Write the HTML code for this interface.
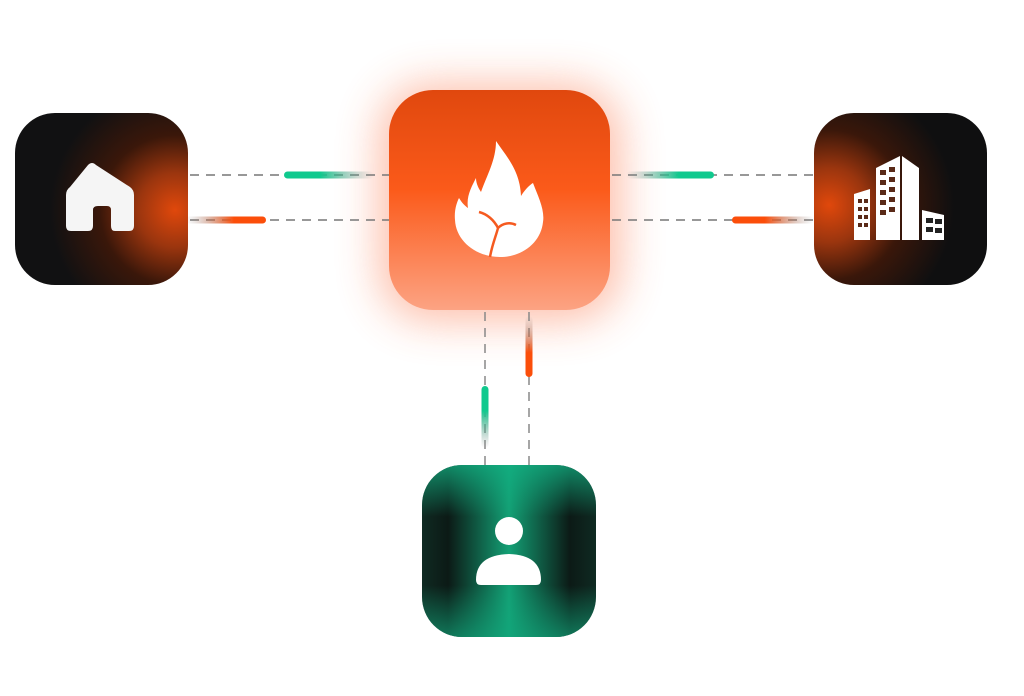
<!DOCTYPE html>
<html><head><meta charset="utf-8"><style>
html,body{margin:0;padding:0;background:#fff;width:1024px;height:696px;overflow:hidden}
</style></head><body>
<svg width="1024" height="696" viewBox="0 0 1024 696" xmlns="http://www.w3.org/2000/svg">
<defs>
 <filter id="glow" x="-50%" y="-50%" width="200%" height="200%"><feGaussianBlur stdDeviation="22"/></filter>
 <linearGradient id="cg" x1="0" y1="0" x2="0" y2="1">
  <stop offset="0" stop-color="#e0480e"/><stop offset="0.45" stop-color="#fb5a1a"/><stop offset="1" stop-color="#fca383"/>
 </linearGradient>
 <radialGradient id="lg" gradientUnits="userSpaceOnUse" cx="175" cy="210" r="125">
  <stop offset="0" stop-color="#e0480c"/><stop offset="0.3" stop-color="#9a350e"/><stop offset="0.6" stop-color="#3a170a"/><stop offset="1" stop-color="#111112"/>
 </radialGradient>
 <radialGradient id="rg" gradientUnits="userSpaceOnUse" cx="829" cy="205" r="125">
  <stop offset="0" stop-color="#e0480c"/><stop offset="0.3" stop-color="#9a350e"/><stop offset="0.6" stop-color="#3a170a"/><stop offset="1" stop-color="#0f0f10"/>
 </radialGradient>
 <linearGradient id="bh" x1="0" x2="1">
  <stop offset="0" stop-color="#0f2a22"/><stop offset="0.15" stop-color="#0c1a16"/><stop offset="0.5" stop-color="#13a075"/><stop offset="0.85" stop-color="#0c1a16"/><stop offset="1" stop-color="#0f2a22"/>
 </linearGradient>
 <linearGradient id="bv" x1="0" y1="0" x2="0" y2="1">
  <stop offset="0" stop-color="#12b082" stop-opacity="0.75"/><stop offset="0.3" stop-color="#12b082" stop-opacity="0"/><stop offset="0.7" stop-color="#12b082" stop-opacity="0"/><stop offset="1" stop-color="#12a87c" stop-opacity="0.65"/>
 </linearGradient>
 <clipPath id="cl"><rect x="15" y="113" width="173" height="172" rx="40"/></clipPath>
 <clipPath id="cr"><rect x="814" y="113" width="173" height="172" rx="40"/></clipPath>
 <clipPath id="cb"><rect x="422" y="465" width="174" height="172" rx="40"/></clipPath>
 <linearGradient id="gR" x1="0" x2="1"><stop offset="0" stop-color="#10c98e"/><stop offset="0.4" stop-color="#10c98e"/><stop offset="1" stop-color="#888" stop-opacity="0"/></linearGradient>
 <linearGradient id="gL" x1="1" x2="0"><stop offset="0" stop-color="#10c98e"/><stop offset="0.4" stop-color="#10c98e"/><stop offset="1" stop-color="#888" stop-opacity="0"/></linearGradient>
 <linearGradient id="oL" x1="1" x2="0"><stop offset="0" stop-color="#fb4e0a"/><stop offset="0.4" stop-color="#fb4e0a"/><stop offset="1" stop-color="#888" stop-opacity="0"/></linearGradient>
 <linearGradient id="oR" x1="0" x2="1"><stop offset="0" stop-color="#fb4e0a"/><stop offset="0.4" stop-color="#fb4e0a"/><stop offset="1" stop-color="#888" stop-opacity="0"/></linearGradient>
 <linearGradient id="oU" x1="0" y1="1" x2="0" y2="0"><stop offset="0" stop-color="#fb4e0a"/><stop offset="0.4" stop-color="#fb4e0a"/><stop offset="1" stop-color="#888" stop-opacity="0"/></linearGradient>
 <linearGradient id="gD" x1="0" y1="0" x2="0" y2="1"><stop offset="0" stop-color="#10c98e"/><stop offset="0.4" stop-color="#10c98e"/><stop offset="1" stop-color="#888" stop-opacity="0"/></linearGradient>
</defs>

<rect x="380" y="85" width="240" height="235" rx="50" fill="#fb6a3a" opacity="0.45" filter="url(#glow)"/>

<g stroke-width="1.5" stroke-dasharray="9 7" fill="none">
 <line x1="190" y1="175" x2="389" y2="175" stroke="#777"/>
 <line x1="190" y1="220" x2="389" y2="220" stroke="#777"/>
 <line x1="612" y1="175" x2="814" y2="175" stroke="#777"/>
 <line x1="612" y1="220" x2="814" y2="220" stroke="#777"/>
 <line x1="485" y1="312" x2="485" y2="465" stroke="#888"/>
 <line x1="529" y1="312" x2="529" y2="465" stroke="#888"/>
</g>

<rect x="284" y="171.5" width="90" height="7" rx="3.5" fill="url(#gR)"/>
<rect x="186" y="216.5" width="80" height="7" rx="3.5" fill="url(#oL)"/>
<rect x="626" y="171.5" width="88" height="7" rx="3.5" fill="url(#gL)"/>
<rect x="732" y="216.5" width="82" height="7" rx="3.5" fill="url(#oR)"/>
<rect x="525.5" y="316" width="7" height="61" rx="3.5" fill="url(#oU)"/>
<rect x="481.5" y="386" width="7" height="62" rx="3.5" fill="url(#gD)"/>

<rect x="389" y="90" width="221" height="220" rx="44" fill="url(#cg)"/>
<path d="M496 141 C506 156 520 170 521 196 C526 188 531 184 533 183 C538 196 545 210 543 222 C541 242 523 257 500 257 C476 257 456 241 455 220 C454 210 457 202 459 198 C462 203 465 206 468 208 C466 196 472 186 476 178 C476 184 479 189 481 192 C487 175 496 160 496 141 Z" fill="#fff"/>
<path d="M479 212 C487 214 494 220 498 228 C503 223 510 222 516 225 M498 228 C496 236 492 245 490 257" stroke="#f55a20" stroke-width="2.5" fill="none"/>

<g clip-path="url(#cl)">
 <rect x="15" y="113" width="173" height="172" fill="url(#lg)"/>
</g>
<path d="M88 165 Q92 161 96 165 L130 187 Q134 190 134 195 L134 226 Q134 231 129 231 L115 231 Q111 231 111 226 L111 210 Q111 206 107 206 L98 206 Q93 206 93 210 L93 226 Q93 231 88 231 L71 231 Q66 231 66 226 L66 195 Q66 190 70 187 Z" fill="#f5f5f5"/>

<g clip-path="url(#cr)">
 <rect x="814" y="113" width="173" height="172" fill="url(#rg)"/>
</g>
<g fill="#fff">
 <path d="M854 194 L870 189 L870 240 L854 240 Z"/>
 <path d="M876 168 L900 156 L900 240 L876 240 Z"/>
 <path d="M902 156 L919 168 L919 240 L902 240 Z"/>
 <path d="M922 210 L944 215 L944 240 L922 240 Z"/>
</g>
<g fill="#5a2a18">
 <rect x="858" y="199" width="4" height="4"/><rect x="864" y="199" width="4" height="4"/>
 <rect x="858" y="207" width="4" height="4"/><rect x="864" y="207" width="4" height="4"/>
 <rect x="858" y="215" width="4" height="4"/><rect x="864" y="215" width="4" height="4"/>
 <rect x="858" y="223" width="4" height="4"/><rect x="864" y="223" width="4" height="4"/>
 <rect x="880" y="170" width="6" height="5"/><rect x="889" y="167" width="6" height="5"/>
 <rect x="880" y="180" width="6" height="5"/><rect x="889" y="177" width="6" height="5"/>
 <rect x="880" y="190" width="6" height="5"/><rect x="889" y="187" width="6" height="5"/>
 <rect x="880" y="200" width="6" height="5"/><rect x="889" y="197" width="6" height="5"/>
 <rect x="880" y="210" width="6" height="5"/><rect x="889" y="207" width="6" height="5"/>
 <rect x="926" y="218" width="7" height="5" fill="#222"/><rect x="935" y="219" width="7" height="5" fill="#222"/>
 <rect x="926" y="227" width="7" height="5" fill="#222"/><rect x="935" y="228" width="7" height="5" fill="#222"/>
</g>

<g clip-path="url(#cb)">
 <rect x="422" y="465" width="174" height="172" fill="url(#bh)"/>
 <rect x="422" y="465" width="174" height="172" fill="url(#bv)"/>
</g>
<circle cx="509" cy="531" r="14" fill="#fff"/>
<path d="M476 580 Q476 555 509 554 Q541 555 541 580 Q541 585 536 585 L481 585 Q476 585 476 580 Z" fill="#fff"/>
</svg>
</body></html>
